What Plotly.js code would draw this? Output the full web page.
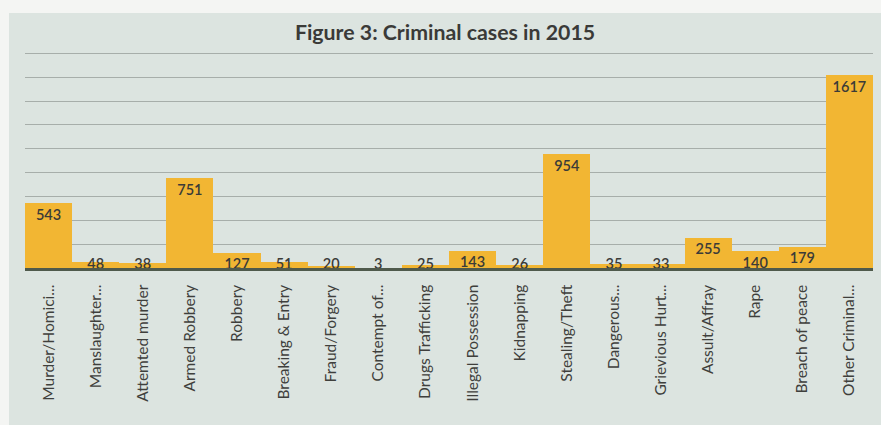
<!DOCTYPE html>
<html>
<head>
<meta charset="utf-8">
<script src="https://cdn.plot.ly/plotly-3.0.1.min.js"></script>
<style>
  html, body { margin: 0; padding: 0; background: #f4f5f3; width: 881px; height: 425px; overflow: hidden; }
  #chart { position: absolute; left: 9px; top: 13px; width: 872px; height: 412px; }
</style>
</head>
<body>
<div id="chart"></div>
<script>
const categories = [
  "Murder/Homici...", "Manslaughter...", "Attemted murder", "Armed Robbery", "Robbery",
  "Breaking & Entry", "Fraud/Forgery", "Contempt of...", "Drugs Trafficking", "Illegal Possession",
  "Kidnapping", "Stealing/Theft", "Dangerous...", "Grievious Hurt...", "Assult/Affray",
  "Rape", "Breach of peace", "Other Criminal..."
];
const cases = [543, 48, 38, 751, 127, 51, 20, 3, 25, 143, 26, 954, 35, 33, 255, 140, 179, 1617];
const labels = cases.map(String);

// "inside end" labels: short bars keep their label just above the baseline
const minLabelAnchor = 130;
const labelAnchor = cases.map(v => Math.max(v, minLabelAnchor));

const barColor = "#f2b633";
const textColor = "#3b3b38";

const bars = {
  type: "bar",
  x: categories,
  y: cases,
  marker: { color: barColor, line: { width: 0 } },
  hoverinfo: "x+y",
  showlegend: false
};

const valueLabels = {
  type: "scatter",
  mode: "markers+text",
  x: categories,
  y: labelAnchor,
  text: labels,
  textposition: "bottom center",
  marker: { size: 7, opacity: 0, color: barColor },
  textfont: { family: "Lato, 'Open Sans', sans-serif", size: 14.5, color: textColor, weight: 600 },
  cliponaxis: true,
  hoverinfo: "skip",
  showlegend: false
};

const layout = {
  width: 872,
  height: 412,
  paper_bgcolor: "#dce4e0",
  plot_bgcolor: "rgba(0,0,0,0)",
  margin: { l: 16, r: 8, t: 39, b: 157 },
  bargap: 0,
  title: {
    text: "<b>Figure 3: Criminal cases in 2015</b>",
    font: { family: "Lato, 'Open Sans', sans-serif", size: 21.3, color: "#3a3a38" },
    x: 0.5, xanchor: "center",
    y: 0.952, yanchor: "middle"
  },
  xaxis: {
    type: "category",
    range: [-0.5, 17.5],
    autorange: false,
    tickangle: -90,
    tickfont: { family: "Lato, 'Open Sans', sans-serif", size: 15.5, color: "#3f3f3c" },
    ticks: "",
    ticklabelstandoff: 8,
    showline: true,
    linecolor: "#4f5a4c",
    linewidth: 2.5,
    showgrid: false,
    fixedrange: true
  },
  yaxis: {
    range: [0, 1812],
    autorange: false,
    tickvals: [200, 400, 600, 800, 1000, 1200, 1400, 1600, 1800],
    showticklabels: false,
    ticks: "",
    showgrid: true,
    gridcolor: "#a7aeaa",
    gridwidth: 1,
    zeroline: false,
    showline: false,
    fixedrange: true
  },
  font: { family: "Lato, 'Open Sans', sans-serif" }
};

Plotly.newPlot("chart", [bars, valueLabels], layout, { displayModeBar: false, staticPlot: true });
</script>
</body>
</html>
